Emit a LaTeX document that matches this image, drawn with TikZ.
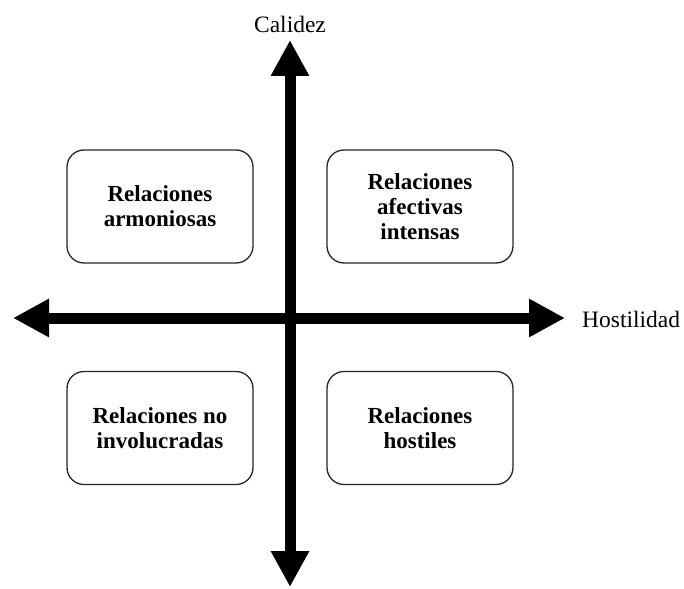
\documentclass[tikz,border=0pt]{standalone}
\usepackage{fontspec}
\setmainfont{Liberation Serif}
\usetikzlibrary{arrows.meta}
\tikzset{
  quad/.style={draw=black!85, line width=1.3pt, rounded corners=17pt,
    minimum width=186pt, minimum height=113pt, align=center,
    font=\fontsize{23}{25}\selectfont\bfseries, inner sep=0pt},
  axis/.style={line width=11pt, -{Triangle[length=36pt,width=36pt]}},
  axlabel/.style={font=\fontsize{23.5}{25}\selectfont, inner sep=0pt}
}
\begin{document}
\begin{tikzpicture}[x=1pt,y=-1pt]
\useasboundingbox (0,0) rectangle (684,588);
\coordinate (c) at (290,318);
\coordinate (top) at (290,40);
\coordinate (bot) at (290,587);
\coordinate (left) at (13,318);
\coordinate (right) at (565,318);
\draw[axis] (c) -- (top);
\draw[axis] (c) -- (bot);
\draw[axis] (c) -- (left);
\draw[axis] (c) -- (right);
\fill (284.5,312.5) rectangle (295.5,323.5);
\node[axlabel] (cal) at (290,24) {Calidez};
\node[axlabel, anchor=west] (hos) at (582,319) {Hostilidad};
\node[quad] (ra) at (160,206.5) {Relaciones\\armoniosas};
\node[quad] (rai) at (420,206.5) {Relaciones\\afectivas\\intensas};
\node[quad] (rni) at (160,428) {Relaciones no\\involucradas};
\node[quad] (rh) at (420,428) {Relaciones\\hostiles};
\end{tikzpicture}
\end{document}
